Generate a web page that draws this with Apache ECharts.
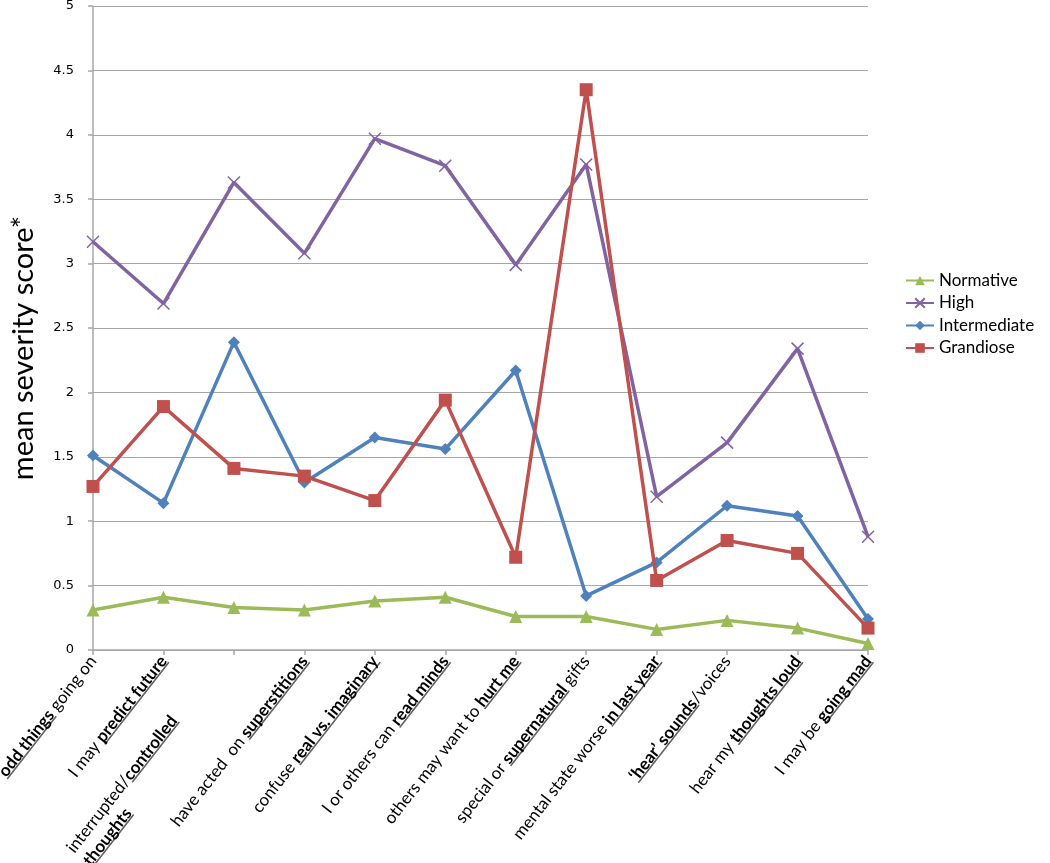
<!DOCTYPE html>
<html>
<head>
<meta charset="utf-8">
<script src="https://cdn.jsdelivr.net/npm/echarts@6/dist/echarts.min.js"></script>
<style>
  html, body { margin: 0; padding: 0; background: #fff; }
  #chart { width: 1050px; height: 863px; }
</style>
</head>
<body>
<div id="chart"></div>
<script>
// category labels, rich-text markup: {u|...} = bold underlined part
const categories = [
  '{n|}{u|odd things}{n| going on}',
  '{n|I may }{u|predict future}',
  '{n|interrupted/}{u|controlled}{sp|}\n{ul|thoughts}',
  '{n|have acted  on }{u|superstitions}',
  '{n|confuse }{u|real vs. imaginary}',
  '{n|I or others can }{u|read minds}',
  '{n|others may want to }{u|hurt me}',
  '{n|special or }{u|supernatural}{n| gifts}',
  '{n|mental state worse }{u|in last year}',
  '{u|\u2018hear\u2019 sounds}{n|/voices}',
  '{n|hear my }{u|thoughts loud}',
  '{n|I may be }{u|going mad}'
]
const normative    = [0.31, 0.41, 0.33, 0.31, 0.38, 0.41, 0.26, 0.26, 0.16, 0.23, 0.17, 0.05]
const high         = [3.17, 2.69, 3.63, 3.08, 3.97, 3.76, 2.99, 3.77, 1.19, 1.61, 2.34, 0.88]
const intermediate = [1.51, 1.14, 2.39, 1.30, 1.65, 1.56, 2.17, 0.42, 0.68, 1.12, 1.04, 0.24]
const grandiose    = [1.27, 1.89, 1.41, 1.35, 1.16, 1.94, 0.72, 4.35, 0.54, 0.85, 0.75, 0.17]
const yTicks = ['0', '0.5', '1', '1.5', '2', '2.5', '3', '3.5', '4', '4.5', '5']

// underline drawn as a stretched background image under the bold tokens
const ul = document.createElement('canvas')
ul.width = 4
ul.height = 21
const ctx = ul.getContext('2d')
ctx.fillStyle = '#000'
ctx.fillRect(0, 18.4, 4, 1.2)

const labelFont = 'Lato'
const fs = 17
const lh = 21
const chart = echarts.init(document.getElementById('chart'))
const lineW = 3.5

chart.setOption({
  animation: false,
  grid: { left: 93, right: 182, top: 6, bottom: 213, containLabel: false, outerBoundsMode: 'none' },
  legend: {
    orient: 'vertical',
    left: 900,
    top: 267,
    itemWidth: 28,
    itemHeight: 12,
    itemGap: 5.5,
    textStyle: { fontFamily: labelFont, fontSize: 17, color: '#000' },
    data: ['Normative', 'High', 'Intermediate', 'Grandiose']
  },
  xAxis: {
    type: 'category',
    boundaryGap: false,
    data: categories,
    axisLine: { lineStyle: { color: '#a6a6a6', width: 1.5 } },
    axisTick: { show: true, length: 5, lineStyle: { color: '#a6a6a6', width: 1.5 } },
    axisLabel: {
      interval: 0,
      rotate: 52,
      margin: 8,
      color: '#000',
      fontFamily: labelFont,
      fontSize: fs,
      lineHeight: lh,
      rich: {
        n: { fontFamily: labelFont, fontSize: fs, lineHeight: lh, color: '#000' },
        u: { fontFamily: labelFont, fontSize: fs, lineHeight: lh, color: '#000', fontWeight: 'bold', backgroundColor: { image: ul } },
        ul: { fontFamily: labelFont, fontSize: fs, lineHeight: lh, color: '#000', fontWeight: 'bold', align: 'left', backgroundColor: { image: ul } },
        sp: { width: 84, lineHeight: lh }
      }
    }
  },
  yAxis: {
    type: 'value',
    min: 0,
    max: 5,
    interval: 0.5,
    name: 'mean severity score*',
    nameLocation: 'middle',
    nameGap: 55,
    nameTextStyle: { fontFamily: labelFont, fontSize: 29, color: '#000', padding: [0, 40, 0, 0] },
    axisLine: { show: true, lineStyle: { color: '#a6a6a6', width: 1.5 } },
    axisTick: { show: true, length: 5, lineStyle: { color: '#a6a6a6', width: 1.5 } },
    splitLine: { lineStyle: { color: '#a6a6a6', width: 1.2 } },
    axisLabel: {
      color: '#000',
      fontFamily: 'DejaVu Sans',
      fontSize: 13,
      margin: 19,
      formatter: (v) => yTicks[Math.round(v * 2)]
    }
  },
  series: [
    {
      name: 'Normative',
      type: 'line',
      data: normative,
      symbol: 'triangle',
      symbolSize: 13,
      itemStyle: { color: '#9bbb59' },
      lineStyle: { width: lineW, color: '#9bbb59' },
      z: 2
    },
    {
      name: 'High',
      type: 'line',
      data: high,
      symbol: 'path://M0,0L10,10M10,0L0,10',
      symbolSize: 12,
      itemStyle: { color: '#8064a2', borderColor: '#8064a2', borderWidth: 1.5 },
      lineStyle: { width: lineW, color: '#8064a2' },
      z: 3
    },
    {
      name: 'Intermediate',
      type: 'line',
      data: intermediate,
      symbol: 'diamond',
      symbolSize: 12,
      itemStyle: { color: '#4f81bd' },
      lineStyle: { width: lineW, color: '#4f81bd' },
      z: 4
    },
    {
      name: 'Grandiose',
      type: 'line',
      data: grandiose,
      symbol: 'rect',
      symbolSize: 13,
      itemStyle: { color: '#c0504d' },
      lineStyle: { width: lineW, color: '#c0504d' },
      z: 5
    }
  ]
})
</script>
</body>
</html>
